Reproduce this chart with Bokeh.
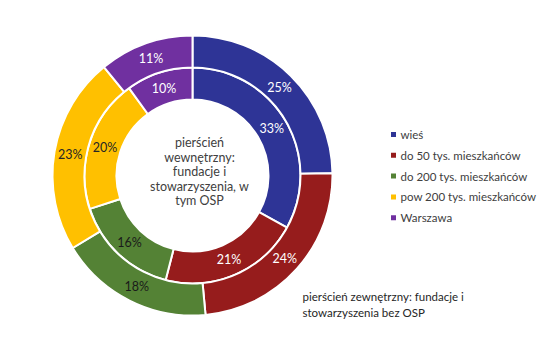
import numpy as np
from bokeh.plotting import figure
from bokeh.models import Range1d, ColumnDataSource
from bokeh.core.properties import value
from bokeh.embed import file_html
from bokeh.resources import INLINE

categories = ["wieś", "do 50 tys. mieszkańców", "do 200 tys. mieszkańców",
              "pow 200 tys. mieszkańców", "Warszawa"]
inner_vals = [33, 21, 16, 20, 10]
outer_vals = [25, 24, 18, 23, 11]
colors = ["#2E3496", "#961C1C", "#548235", "#FFC000", "#7030A0"]
label_colors = ["white", "white", "#1a1a1a", "#262626", "white"]
center_text = ["pierścień", "wewnętrzny:", "fundacje i", "stowarzyszenia, w", "tym OSP"]
note_text = ["pierścień zewnętrzny: fundacje i", "stowarzyszenia bez OSP"]

W, H = 550, 350
cx, cy = 192, H - 175
r_hole, r_in_out, r_out_in, r_out = 76, 108, 108, 140
FONT = value("Lato")

p = figure(width=W, height=H, output_backend="svg", toolbar_location=None,
           x_range=Range1d(0, W), y_range=Range1d(0, H), min_border=0)
p.axis.visible = False
p.grid.visible = False
p.outline_line_color = None
p.background_fill_color = "white"


def ring(vals, r0, r1):
    v = np.array(vals, dtype=float)
    frac = v / v.sum()
    ends = np.cumsum(frac) * 2 * np.pi
    starts = ends - frac * 2 * np.pi
    mids = (starts + ends) / 2
    src = ColumnDataSource(dict(
        start=np.pi / 2 - ends, end=np.pi / 2 - starts, color=colors,
    ))
    p.annular_wedge(x=cx, y=cy, inner_radius=r0, outer_radius=r1,
                    start_angle="start", end_angle="end", fill_color="color",
                    line_color="white", line_width=2, source=src)
    rm = (r0 + r1) / 2
    lsrc = ColumnDataSource(dict(
        x=cx + rm * np.sin(mids), y=cy + rm * np.cos(mids),
        t=[f"{int(x)}%" for x in vals], c=label_colors,
    ))
    p.text(x="x", y="y", text="t", text_color="c", source=lsrc,
           text_align="center", text_baseline="middle",
           text_font=FONT, text_font_size="12.5px")


ring(inner_vals, r_hole, r_in_out)
ring(outer_vals, r_out_in, r_out)

# center text
n = len(center_text)
ys = [H - (142 + i * 14.5) for i in range(n)]
p.text(x=[199] * n, y=ys, text=center_text, text_align="center",
       text_baseline="middle", text_font=FONT, text_font_size="12.5px",
       text_color="#404040")

# legend
ly = [H - (134 + i * 20.8) for i in range(len(categories))]
p.scatter(x=[393] * len(categories), y=ly, marker="square", size=5,
          fill_color=colors, line_color=None)
p.text(x=[400] * len(categories), y=ly, text=categories, text_align="left",
       text_baseline="middle", text_font=FONT, text_font_size="11.5px",
       text_color="#404040")

# note
p.text(x=[302, 302], y=[H - 296, H - 312], text=note_text, text_align="left",
       text_baseline="middle", text_font=FONT, text_font_size="11.5px",
       text_color="#262626")

open("out.html", "w").write(file_html(p, INLINE))
